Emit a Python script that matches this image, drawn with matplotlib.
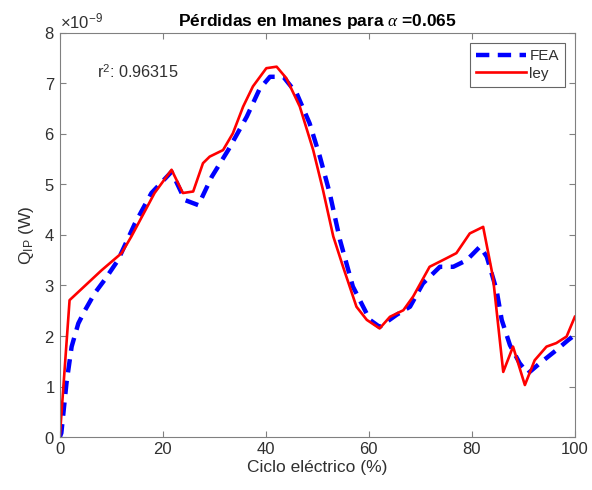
import matplotlib.pyplot as plt
from matplotlib.ticker import ScalarFormatter

# FEA reference losses (W, x1e-9) over the electric cycle (%)
x_fea = [0, 0.3, 1.3, 2.3, 3.6, 4.9, 6.8, 8.7, 11.3, 14.6, 17.8, 21.7, 24.3,
         26.9, 29.5, 32.7, 36.3, 38.8, 40.8, 43.4, 46.0, 48.5, 50.5, 52.4,
         54.4, 56.9, 60.2, 62.1, 65.4, 68.0, 70.5, 73.8, 76.4, 79.0, 81.6,
         82.9, 84.8, 85.8, 87.4, 89.3, 90.9, 93.2, 96.4, 98.7, 100]
q_fea = [0, 0.08, 1.07, 1.79, 2.25, 2.51, 2.85, 3.11, 3.50, 4.23, 4.83, 5.25,
         4.69, 4.59, 5.15, 5.68, 6.34, 6.89, 7.13, 7.13, 6.80, 6.21, 5.55,
         4.83, 3.90, 2.98, 2.32, 2.18, 2.42, 2.58, 3.04, 3.37, 3.37, 3.50,
         3.77, 3.57, 2.91, 2.32, 1.82, 1.46, 1.26, 1.46, 1.72, 1.92, 2.02]

# Fitted law
x_ley = [0, 1.9, 8.1, 12.0, 13.9, 18.4, 21.7, 23.9, 25.9, 27.8, 29.1, 31.7,
         33.6, 35.6, 37.5, 40.1, 42.1, 44.0, 46.6, 49.2, 51.1, 53.1, 55.0,
         57.6, 59.6, 62.1, 64.1, 66.7, 68.6, 71.8, 75.1, 77.0, 79.6, 82.2,
         84.1, 86.1, 88.0, 90.3, 92.2, 94.5, 96.4, 98.4, 100]
q_ley = [0, 2.71, 3.30, 3.64, 3.97, 4.83, 5.29, 4.83, 4.86, 5.42, 5.55, 5.68,
         6.01, 6.54, 6.94, 7.30, 7.33, 7.10, 6.54, 5.68, 4.89, 3.97, 3.37,
         2.58, 2.32, 2.15, 2.38, 2.51, 2.78, 3.37, 3.54, 3.64, 4.03, 4.16,
         3.17, 1.29, 1.79, 1.03, 1.52, 1.79, 1.86, 1.99, 2.38]

r2 = 0.96315
alpha = 0.065

plt.rcParams["font.family"] = ["Liberation Sans", "DejaVu Sans"]
plt.rcParams["mathtext.fontset"] = "custom"
plt.rcParams["mathtext.rm"] = "Liberation Sans"
plt.rcParams["mathtext.it"] = "Liberation Serif:italic"

fig = plt.figure(figsize=(5.92, 4.9), dpi=100)
ax = fig.add_axes([0.101, 0.108, 0.870, 0.825])

ax.plot(x_fea, [v * 1e-9 for v in q_fea], color="#0000ff", lw=3.2,
        dashes=(3, 1.9), label="FEA")
ax.plot(x_ley, [v * 1e-9 for v in q_ley], color="#ff0000", lw=1.9,
        label="ley")

ax.set_xlim(0, 100)
ax.set_ylim(0, 8e-9)
ax.set_xticks([0, 20, 40, 60, 80, 100])
ax.set_yticks([i * 1e-9 for i in range(9)])

fmt = ScalarFormatter(useMathText=True)
fmt.set_powerlimits((0, 0))
ax.yaxis.set_major_formatter(fmt)
ax.yaxis.get_offset_text().set_color("#505050")
ax.yaxis.get_offset_text().set_fontsize(12)

gray = "#303030"
for s in ax.spines.values():
    s.set_color("#808080")
    s.set_linewidth(0.8)
ax.tick_params(direction="in", length=4, width=0.8, colors="#808080",
               labelcolor=gray, labelsize=12, top=True, right=True)

ax.set_xlabel("Ciclo eléctrico (%)", fontsize=12.5, color=gray, labelpad=2)
ax.set_ylabel("Q$_{\\mathrm{IP}}$ (W)", fontsize=12.5, color=gray, labelpad=6)
ax.set_title(f"Pérdidas en Imanes para $\\alpha$ ={alpha}", fontsize=12.5,
             fontweight="bold", color="black", pad=5)

ax.text(7.2, 7.23e-9, f"r$^2$: {r2}", fontsize=11.7, color=gray, va="center")

leg = ax.legend(loc="upper right", fontsize=11, frameon=True, fancybox=False,
                edgecolor="#404040", handlelength=3.3, handletextpad=0.2,
                borderpad=0.4, labelspacing=0.25, borderaxespad=0.65)
leg.get_frame().set_linewidth(0.8)
for t in leg.get_texts():
    t.set_color(gray)

fig.savefig("out.png", dpi=100)
